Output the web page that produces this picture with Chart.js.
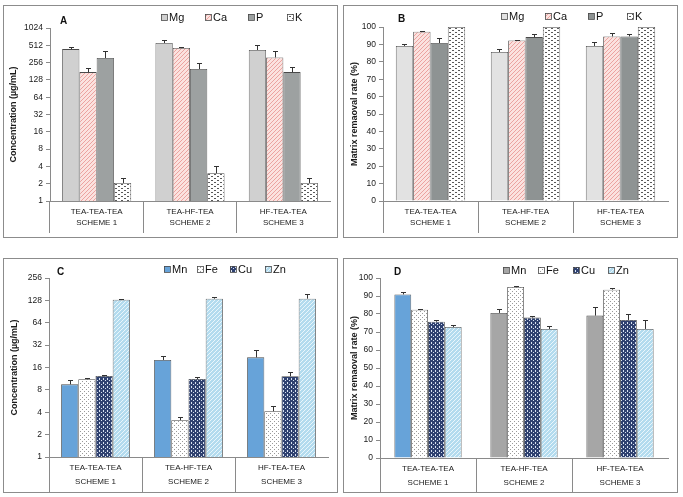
<!DOCTYPE html>
<html>
<head>
<meta charset="utf-8">
<script src="https://cdn.jsdelivr.net/npm/chart.js@4.4.1/dist/chart.umd.min.js"></script>
<style>
  body { margin: 0; background: #fff; }
  .panel { position: absolute; border: 1px solid #8c8c8c; box-sizing: border-box; }
  .panel canvas { position: absolute; left: 0; top: 0; }
</style>
</head>
<body>
<div class="panel" id="pA" style="left:3px;top:5px;width:335px;height:233px"><canvas id="cA" width="333" height="231"></canvas></div>
<div class="panel" id="pB" style="left:343px;top:5px;width:335px;height:233px"><canvas id="cB" width="333" height="231"></canvas></div>
<div class="panel" id="pC" style="left:3px;top:258px;width:335px;height:235px"><canvas id="cC" width="333" height="233"></canvas></div>
<div class="panel" id="pD" style="left:343px;top:258px;width:335px;height:235px"><canvas id="cD" width="333" height="233"></canvas></div>
<script>
// categories
const methods = ['TEA-TEA-TEA', 'TEA-HF-TEA', 'HF-TEA-TEA'];
const schemes = ['SCHEME 1', 'SCHEME 2', 'SCHEME 3'];
const majorEls = ['Mg', 'Ca', 'P', 'K'];
const traceEls = ['Mn', 'Fe', 'Cu', 'Zn'];
const ticksA = [1, 2, 4, 8, 16, 32, 64, 128, 256, 512, 1024];
const ticksC = [1, 2, 4, 8, 16, 32, 64, 128, 256];

// A - concentration of matrix elements (ug/mL)
const concMg = [440, 561, 424];   const errMg = [38, 70, 90];
const concCa = [175, 459, 315];   const errCa = [30, 20, 86];
const concP  = [307, 198, 175];   const errP  = [106, 53, 39];
const concK  = [2.06, 3.04, 2.06]; const errK = [0.45, 1.0, 0.45];

// B - matrix removal rate (%)
const remMg = [89.1, 85.6, 89.1]; const errRemMg = [1.1, 1.9, 2.5];
const remCa = [97.3, 92.3, 94.6]; const errRemCa = [0.4, 0.2, 1.9];
const remP  = [90.8, 94.2, 94.6]; const errRemP  = [2.9, 1.6, 1.5];
const remK  = [100, 100, 100];    const errRemK  = [0, 0, 0];

// C - concentration of trace elements (ug/mL)
const concMn = [9.5, 20.2, 21.9];  const errMn = [1.2, 2.5, 5.2];
const concFe = [11.1, 3.13, 4.13]; const errFe = [0.3, 0.36, 0.7];
const concCu = [12.3, 11.2, 12.2]; const errCu = [0.4, 0.6, 1.6];
const concZn = [131, 135, 135];    const errZn = [4, 9, 23];

// D - removal rate of trace elements (%)
const remMn = [90.9, 80.6, 79.1]; const errRemMn = [1.1, 2.4, 5.0];
const remFe = [82.4, 95.0, 93.5]; const errRemFe = [0.3, 0.3, 0.8];
const remCu = [75.7, 78.0, 76.7]; const errRemCu = [0.8, 1.1, 3.3];
const remZn = [72.8, 71.7, 71.7]; const errRemZn = [0.9, 1.8, 5.0];

Chart.defaults.font.family = "'Liberation Sans', Arial, sans-serif";
Chart.defaults.color = '#1a1a1a';
const axisGray = '#8a8a8a';
const edge = '#4a4a4a';

// small tile patterns, like the excel fills
function tile(w, h, bg, draw) {
  const c = document.createElement('canvas');
  c.width = w; c.height = h;
  const g = c.getContext('2d');
  g.fillStyle = bg; g.fillRect(0, 0, w, h);
  draw(g);
  return g.createPattern(c, 'repeat');
}
const diag = (bg, fg) => tile(4, 4, bg, g => {
  g.fillStyle = fg;
  for (let i = 0; i < 4; i++) g.fillRect(i, 3 - i, 1, 1);
});
const caFill = diag('#fbe2df', '#eba3a0');
const znFill = diag('#b3dbee', '#eaf6fb');
const kFill = tile(6, 4, '#ffffff', g => {
  g.fillStyle = '#5a5a5a';
  g.fillRect(0, 0, 2, 1); g.fillRect(3, 2, 2, 1);
});
const feFill = tile(4, 4, '#ffffff', g => {
  g.fillStyle = '#9a9a9a';
  g.fillRect(0, 0, 1, 1); g.fillRect(2, 2, 1, 1);
});
const cuFill = tile(4, 4, '#2f4170', g => {
  g.fillStyle = '#d8e2f1';
  g.fillRect(1, 1, 1, 1); g.fillRect(3, 3, 1, 1); g.fillRect(3, 0, 1, 1);
});

// upward error bars with a small cap
const errorBars = {
  id: 'errorBars',
  afterDatasetsDraw(chart) {
    const { ctx, scales: { y } } = chart;
    ctx.save();
    ctx.strokeStyle = '#333';
    ctx.lineWidth = 1;
    chart.data.datasets.forEach((ds, di) => {
      chart.getDatasetMeta(di).data.forEach((bar, i) => {
        const e = ds.errors[i];
        if (!e) return;
        const top = Math.round(y.getPixelForValue(ds.data[i] + e)) + 0.5;
        const x = Math.round(bar.x) + 0.5;
        ctx.beginPath();
        ctx.moveTo(x, bar.y); ctx.lineTo(x, top);
        ctx.moveTo(x - 2.5, top); ctx.lineTo(x + 2.5, top);
        ctx.stroke();
      });
    });
    ctx.restore();
  }
};

// legend row + panel letter drawn inside the plot
const boxLegend = {
  id: 'boxLegend',
  afterDraw(chart, args, o) {
    const ctx = chart.ctx;
    ctx.save();
    ctx.font = 'bold 10px ' + Chart.defaults.font.family;
    ctx.fillStyle = '#111';
    ctx.textBaseline = 'middle';
    ctx.fillText(o.letter, o.letterX, o.letterY);
    ctx.font = '11px ' + Chart.defaults.font.family;
    chart.data.datasets.forEach((ds, i) => {
      const x = o.x[i];
      ctx.fillStyle = ds.legendFill || ds.backgroundColor;
      ctx.fillRect(x, o.y - 3, 6, 6);
      ctx.strokeStyle = edge; ctx.lineWidth = 0.8;
      ctx.strokeRect(x + 0.5, o.y - 2.5, 6, 6);
      ctx.fillStyle = '#111';
      ctx.fillText(ds.label, x + 8, o.y + 0.5);
    });
    ctx.restore();
  }
};

function makePanel(id, p) {
  const datasets = p.series.map((s, i) => ({
    label: p.names[i],
    data: s,
    errors: p.errors[i],
    backgroundColor: p.fills[i],
    legendFill: p.legendFills ? p.legendFills[i] : undefined,
    borderColor: edge,
    borderWidth: 0.8,
    categoryPercentage: p.catPct,
    barPercentage: 1
  }));
  const y = p.log ? {
    type: 'logarithmic', min: 1, max: p.ticks[p.ticks.length - 1],
    afterBuildTicks: s => { s.ticks = p.ticks.map(v => ({ value: v })); },
    ticks: { callback: v => String(v), font: { size: 8.5 }, padding: 3 }
  } : {
    type: 'linear', min: 0, max: 100,
    ticks: { stepSize: 10, font: { size: 8.5 }, padding: 3 }
  };
  Object.assign(y, {
    grid: { drawOnChartArea: false, tickLength: 4, color: axisGray },
    border: { color: axisGray },
    title: { display: true, text: p.title, font: { size: 9, weight: 'bold' }, padding: { top: p.titlePad, bottom: 0 } },
    afterFit: s => { s.width = p.yWidth; }
  });
  new Chart(document.getElementById(id), {
    type: 'bar',
    data: { labels: methods.map((m, i) => [m, schemes[i]]), datasets },
    options: {
      responsive: false,
      animation: false,
      layout: { padding: { top: p.padTop, right: p.padRight, left: 0, bottom: 0 } },
      plugins: {
        legend: { display: false },
        tooltip: { enabled: false },
        boxLegend: p.legend
      },
      scales: {
        x: {
          grid: {
            drawOnChartArea: false, offset: true, tickLength: p.sepLen,
            color: c => c.type === 'tick' ? axisGray : 'rgba(0,0,0,0)'
          },
          border: { color: axisGray },
          ticks: { font: { size: 8, lineHeight: p.lineH / 8 }, padding: p.labelPad, maxRotation: 0, autoSkip: false },
          afterFit: s => { s.height = p.xHeight; }
        },
        y
      }
    },
    plugins: [errorBars, boxLegend]
  });
}

makePanel('cA', {
  names: majorEls, log: true, ticks: ticksA,
  series: [concMg, concCa, concP, concK],
  errors: [errMg, errCa, errP, errK],
  fills: ['#d0d0d0', caFill, '#9da1a1', kFill],
  title: 'Concentration (\u00b5g/mL)', titlePad: 4,
  yWidth: 46, padTop: 22, padRight: 7, xHeight: 36, sepLen: 32, lineH: 11, labelPad: -27, catPct: 0.74,
  legend: { x: [157, 201, 244, 283], y: 11, letter: 'A', letterX: 56, letterY: 15 }
});
makePanel('cB', {
  names: majorEls, log: false,
  series: [remMg, remCa, remP, remK],
  errors: [errRemMg, errRemCa, errRemP, errRemK],
  fills: ['#e2e2e2', caFill, '#8e9393', kFill],
  title: 'Matrix remaoval rate (%)', titlePad: 5,
  yWidth: 39, padTop: 21, padRight: 9, xHeight: 36, sepLen: 32, lineH: 11, labelPad: -27, catPct: 0.73,
  legend: { x: [157, 201, 244, 283], y: 10, letter: 'B', letterX: 54, letterY: 13 }
});
makePanel('cC', {
  names: traceEls, log: true, ticks: ticksC,
  series: [concMn, concFe, concCu, concZn],
  errors: [errMn, errFe, errCu, errZn],
  fills: ['#67a3d9', feFill, cuFill, znFill],
  title: 'Concentration (\u00b5g/mL)', titlePad: 5,
  yWidth: 45, padTop: 19, padRight: 9, xHeight: 35, sepLen: 35, lineH: 14, labelPad: -31, catPct: 0.74,
  legend: { x: [160, 193, 226, 261], y: 10, letter: 'C', letterX: 53, letterY: 13 }
});
makePanel('cD', {
  names: traceEls, log: false,
  series: [remMn, remFe, remCu, remZn],
  errors: [errRemMn, errRemFe, errRemCu, errRemZn],
  fills: [['#67a3d9', '#a6a6a6', '#a6a6a6'], feFill, cuFill, znFill],
  legendFills: ['#a6a6a6', null, null, null],
  title: 'Matrix remaoval rate (%)', titlePad: 5,
  yWidth: 36, padTop: 19, padRight: 9, xHeight: 34, sepLen: 34, lineH: 14, labelPad: -30, catPct: 0.70,
  legend: { x: [159, 194, 229, 264], y: 11, letter: 'D', letterX: 50, letterY: 13 }
});
</script>
</body>
</html>
